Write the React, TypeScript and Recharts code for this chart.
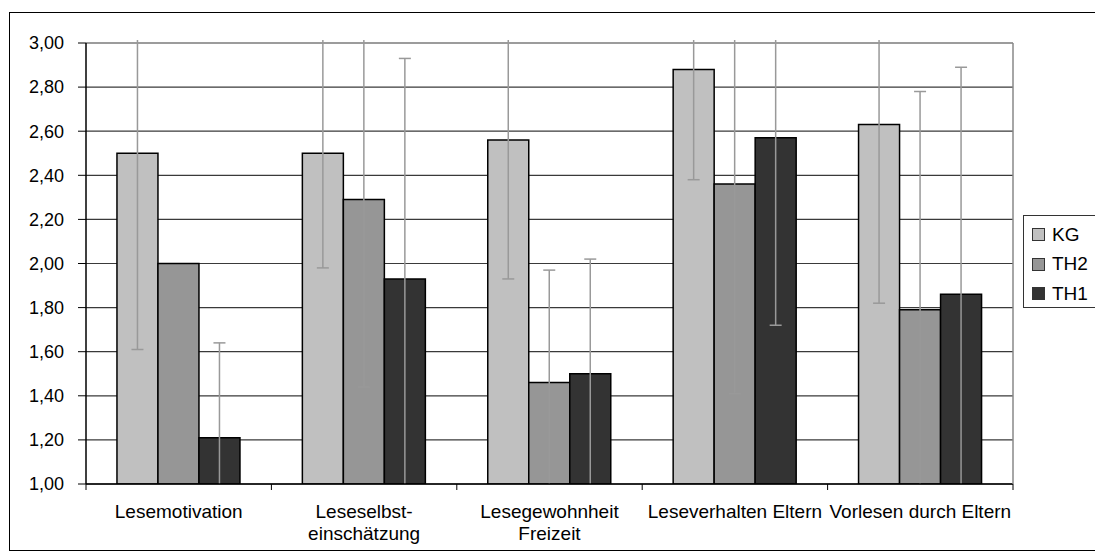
import { BarChart, Bar, XAxis, YAxis, CartesianGrid, ErrorBar, Legend } from "recharts";

const categories = [
  "Lesemotivation",
  "Leseselbst-\neinschätzung",
  "Lesegewohnheit\nFreizeit",
  "Leseverhalten Eltern",
  "Vorlesen durch Eltern",
];

const kg = [2.5, 2.5, 2.56, 2.88, 2.63];
const kgErr = [0.89, 0.52, 0.63, 0.5, 0.81];
const th2 = [2.0, 2.29, 1.46, 2.36, 1.79];
const th2Err = [0, 0.85, 0.51, 0.95, 0.99];
const th1 = [1.21, 1.93, 1.5, 2.57, 1.86];
const th1Err = [0.43, 1.0, 0.52, 0.85, 1.03];

const yTicks = [1.0, 1.2, 1.4, 1.6, 1.8, 2.0, 2.2, 2.4, 2.6, 2.8, 3.0];
const seriesOrder = ["KG", "TH2", "TH1"];

const data = categories.map((name, i) => ({
  name,
  KG: kg[i],
  kgErr: kgErr[i],
  TH2: th2[i],
  th2Err: th2Err[i],
  TH1: th1[i],
  th1Err: th1Err[i],
}));

const W = 1095;
const H = 558;
const MARGIN = { top: 43, right: 0, bottom: 0, left: 0 };
const X_H = 74;
const Y_W = 86;
const RIGHT_W = 82;
const PLOT_W = W - Y_W - RIGHT_W;
const PLOT_H = H - MARGIN.top - X_H;
const BAND = PLOT_W / categories.length;
const FONT = "'Liberation Sans', Arial, sans-serif";

function CategoryTick({ x, y, payload, index }: any) {
  const lines = String(payload.value).split("\n");
  return (
    <g>
      <line x1={x - BAND / 2} x2={x - BAND / 2} y1={y} y2={y + 6} stroke="#000" />
      {index === categories.length - 1 && (
        <line x1={x + BAND / 2} x2={x + BAND / 2} y1={y} y2={y + 6} stroke="#000" />
      )}
      <text x={x} y={y + 34} textAnchor="middle" fontSize={19} fontFamily={FONT} fill="#000">
        {lines.map((l, i) => (
          <tspan key={i} x={x} dy={i === 0 ? 0 : 22}>
            {l}
          </tspan>
        ))}
      </text>
    </g>
  );
}

function LegendBox({ payload }: any) {
  const items = [...(payload || [])].sort(
    (a: any, b: any) => seriesOrder.indexOf(a.value) - seriesOrder.indexOf(b.value)
  );
  return (
    <div
      style={{
        borderTop: "1px solid #333",
        borderBottom: "1px solid #333",
        borderLeft: "1px solid #333",
        background: "#fff",
        height: 93,
        boxSizing: "border-box",
        padding: "4px 0 0 8px",
        fontFamily: FONT,
        fontSize: 19,
        color: "#000",
      }}
    >
      {items.map((p: any) => (
        <div key={p.value} style={{ display: "flex", alignItems: "center", height: 29.5 }}>
          <span
            style={{
              display: "inline-block",
              width: 11,
              height: 11,
              background: p.color,
              border: "1px solid #333",
              marginRight: 7,
            }}
          />
          <span>{p.value}</span>
        </div>
      ))}
    </div>
  );
}

export default function App() {
  return (
    <div style={{ position: "absolute", left: 0, top: 0, width: W, height: H, overflow: "hidden", background: "#fff" }}>
      <style>{`.recharts-errorBars { clip-path: url(#plotClip); }`}</style>
      <BarChart width={W} height={H} data={data} margin={MARGIN} barCategoryGap="16.7%" barGap={0}>
        <defs>
          <clipPath id="plotClip" clipPathUnits="userSpaceOnUse">
            <rect x={Y_W} y={MARGIN.top - 3} width={PLOT_W} height={PLOT_H + 3} />
          </clipPath>
        </defs>
        <CartesianGrid vertical={false} stroke="#3a3a3a" strokeWidth={1.2} />
        <XAxis
          dataKey="name"
          interval={0}
          tickLine={false}
          tickSize={0}
          tickMargin={0}
          axisLine={{ stroke: "#000", strokeWidth: 1.5 }}
          tick={<CategoryTick />}
          height={X_H}
        />
        <YAxis
          domain={[1, 3]}
          allowDataOverflow
          ticks={yTicks}
          width={Y_W}
          tickSize={8}
          tickMargin={14}
          tickFormatter={(v: number) => v.toFixed(2).replace(".", ",")}
          tick={{ fontSize: 18, fontFamily: FONT, fill: "#000" }}
          tickLine={{ stroke: "#000" }}
          axisLine={{ stroke: "#000", strokeWidth: 1.5 }}
        />
        <YAxis
          yAxisId="frame"
          orientation="right"
          domain={[1, 3]}
          width={RIGHT_W}
          tick={false}
          tickLine={false}
          axisLine={{ stroke: "#888", strokeWidth: 1.5 }}
        />
        <Legend
          layout="vertical"
          align="center"
          verticalAlign="middle"
          itemSorter={null}
          content={<LegendBox />}
          wrapperStyle={{ left: 1023, top: 215, width: 80, height: 93 }}
        />
        <Bar dataKey="KG" name="KG" fill="#c0c0c0" stroke="#000" strokeWidth={1.5} isAnimationActive={false}>
          <ErrorBar dataKey="kgErr" width={6} stroke="#999" strokeWidth={1.5} direction="y" />
        </Bar>
        <Bar dataKey="TH2" name="TH2" fill="#969696" stroke="#000" strokeWidth={1.5} isAnimationActive={false}>
          <ErrorBar dataKey="th2Err" width={6} stroke="#999" strokeWidth={1.5} direction="y" />
        </Bar>
        <Bar dataKey="TH1" name="TH1" fill="#333333" stroke="#000" strokeWidth={1.5} isAnimationActive={false}>
          <ErrorBar dataKey="th1Err" width={6} stroke="#999" strokeWidth={1.5} direction="y" />
        </Bar>
      </BarChart>
      <div
        style={{
          position: "absolute",
          left: 9,
          top: 12,
          width: W,
          height: 537,
          border: "1.5px solid #000",
          pointerEvents: "none",
        }}
      />
    </div>
  );
}
